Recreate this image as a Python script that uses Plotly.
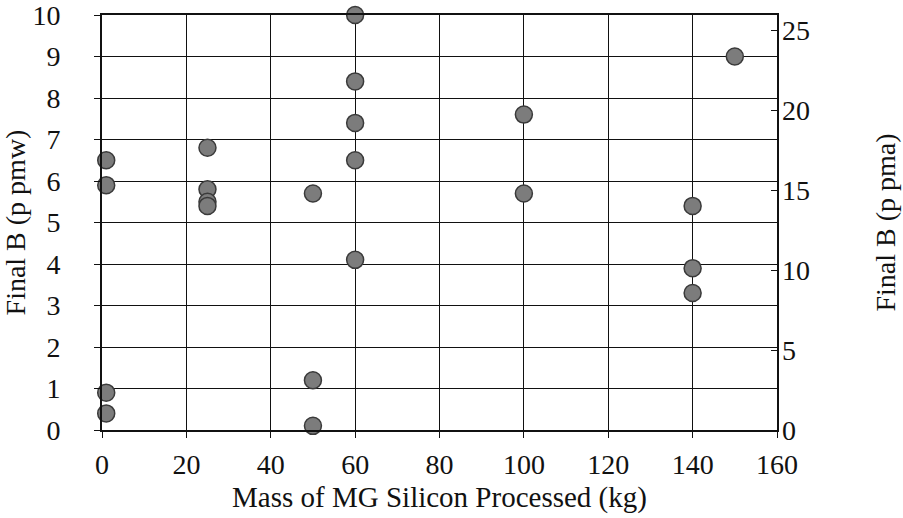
import plotly.graph_objects as go

# Data
mass_kg = [1, 1, 1, 1,
           25, 25, 25, 25,
           50, 50, 50,
           60, 60, 60, 60, 60,
           100, 100,
           140, 140, 140,
           150]
final_b_ppmw = [6.5, 5.9, 0.9, 0.4,
                6.8, 5.8, 5.5, 5.4,
                5.7, 1.2, 0.1,
                10.0, 8.4, 7.4, 6.5, 4.1,
                7.6, 5.7,
                5.4, 3.9, 3.3,
                9.0]
ppmw_to_ppma = 2.598
final_b_ppma = [v * ppmw_to_ppma for v in final_b_ppmw]

x_ticks = [0, 20, 40, 60, 80, 100, 120, 140, 160]
y_left_ticks = list(range(0, 11))
y_right_ticks = [0, 5, 10, 15, 20, 25]

FONT = "Liberation Serif"

fig = go.Figure()
fig.add_trace(go.Scatter(
    x=mass_kg, y=final_b_ppmw, mode="markers",
    marker=dict(size=17, color="#7c7c7c", line=dict(color="#3a3a3a", width=1.5)),
    showlegend=False, cliponaxis=False,
))
fig.add_trace(go.Scatter(
    x=mass_kg, y=final_b_ppma, mode="markers", yaxis="y2",
    marker=dict(size=1, opacity=0), showlegend=False, hoverinfo="skip",
))

fig.update_layout(
    width=903, height=518,
    margin=dict(l=102, r=126, t=15, b=88),
    paper_bgcolor="white", plot_bgcolor="white",
    font=dict(family=FONT, size=28, color="#111111"),
    xaxis=dict(
        range=[0, 160], tickvals=x_ticks, ticktext=[str(t) for t in x_ticks],
        showgrid=True, gridcolor="#111111", gridwidth=1.3,
        showline=True, linecolor="#111111", linewidth=2, mirror=True,
        ticks="outside", ticklen=6, tickcolor="#111111", tickwidth=1.3,
        zeroline=False, automargin=False, ticklabelstandoff=2,
        ticklabeloverflow="allow",
        title=dict(text="Mass of MG Silicon Processed (kg)", font=dict(size=29), standoff=8),
        tickfont=dict(size=28),
    ),
    yaxis=dict(
        range=[0, 10], tickvals=y_left_ticks, ticktext=[str(t) for t in y_left_ticks],
        showgrid=True, gridcolor="#111111", gridwidth=1.3,
        showline=True, linecolor="#111111", linewidth=2, mirror=True,
        ticks="outside", ticklen=6, tickcolor="#111111", tickwidth=1.3,
        zeroline=False, automargin=False, ticklabelstandoff=28,
        ticklabeloverflow="allow",
        title=dict(text="Final B (p pmw)", font=dict(size=28), standoff=10),
        tickfont=dict(size=28),
    ),
    yaxis2=dict(
        range=[0, 10 * ppmw_to_ppma], overlaying="y", side="right",
        tickvals=y_right_ticks, ticktext=[str(t) for t in y_right_ticks],
        showgrid=False, showline=False, zeroline=False, automargin=False,
        ticks="inside", ticklen=6, tickcolor="#111111", tickwidth=1.3,
        ticklabelstandoff=4, ticklabeloverflow="allow",
        title=dict(text="Final B (p pma)", font=dict(size=28), standoff=66),
        tickfont=dict(size=28),
    ),
)

fig.write_html("out.html")
